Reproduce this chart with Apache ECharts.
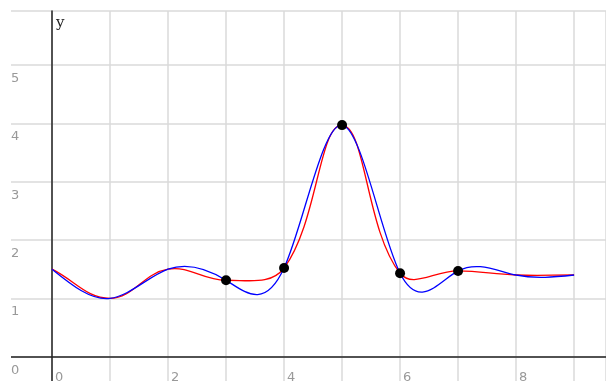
<!DOCTYPE html>
<html>
<head>
<meta charset="utf-8">
<script src="https://cdn.jsdelivr.net/npm/echarts@6/dist/echarts.min.js"></script>
<style>html,body{margin:0;padding:0;background:#fff;}#c{width:606px;height:381px;}</style>
</head>
<body>
<div id="c"></div>
<script>
// knots shared by both curves
var knotX = [0, 1, 2, 3, 4, 5, 6, 7, 8, 9];
var knotY = [1.5, 1.0, 1.5, 1.31, 1.52, 3.97, 1.43, 1.47, 1.4, 1.4];
// highlighted points
var dotX = [3, 4, 5, 6, 7];
var dotY = [1.31, 1.52, 3.97, 1.43, 1.47];
// tick labels
var xTickLabels = ['0', '2', '4', '6', '8'];
var yTickLabels = ['0', '1', '2', '3', '4', '5'];

function pairs(xs, ys) { return xs.map(function (x, i) { return [x, ys[i]]; }); }

// natural cubic spline second derivatives (for rendering the blue curve)
function naturalM(xs, ys) {
  var n = xs.length, M = new Array(n).fill(0);
  var a = [], b = [], c = [], d = [];
  for (var i = 1; i < n - 1; i++) {
    var h0 = xs[i] - xs[i - 1], h1 = xs[i + 1] - xs[i];
    a.push(h0); b.push(2 * (h0 + h1)); c.push(h1);
    d.push(6 * ((ys[i + 1] - ys[i]) / h1 - (ys[i] - ys[i - 1]) / h0));
  }
  var m = b.length;
  for (var k = 1; k < m; k++) {
    var w = a[k] / b[k - 1];
    b[k] -= w * c[k - 1]; d[k] -= w * d[k - 1];
  }
  var sol = new Array(m);
  for (var k2 = m - 1; k2 >= 0; k2--) {
    sol[k2] = (d[k2] - (k2 < m - 1 ? c[k2] * sol[k2 + 1] : 0)) / b[k2];
  }
  for (var j = 0; j < m; j++) M[j + 1] = sol[j];
  return M;
}
var M = naturalM(knotX, knotY);

// cardinal-style spline control points computed in pixel space (red curve)
var TENSION = 0.4;
function cardinalControls(pts, i) {
  var cur = pts[i];
  var prev = pts[i - 1] || cur;
  var next = pts[i + 1] || cur;
  var d01 = Math.hypot(cur[0] - prev[0], cur[1] - prev[1]);
  var d12 = Math.hypot(next[0] - cur[0], next[1] - cur[1]);
  var s01 = d01 / (d01 + d12), s12 = d12 / (d01 + d12);
  if (isNaN(s01)) s01 = 0;
  if (isNaN(s12)) s12 = 0;
  var fa = TENSION * s01, fb = TENSION * s12;
  return {
    prev: [cur[0] - fa * (next[0] - prev[0]), cur[1] - fa * (next[1] - prev[1])],
    next: [cur[0] + fb * (next[0] - prev[0]), cur[1] + fb * (next[1] - prev[1])]
  };
}

var chart = echarts.init(document.getElementById('c'), null, { renderer: 'canvas' });
chart.setOption({
  animation: false,
  backgroundColor: '#fff',
  grid: { left: -6, right: 0, top: 11, bottom: -34, containLabel: false, outerBoundsMode: 'none' },
  xAxis: {
    type: 'value', min: -1, max: 9.55, interval: 1,
    axisLine: { onZero: true, lineStyle: { color: '#222', width: 1.5 } },
    axisTick: { show: false },
    splitLine: { show: true, lineStyle: { color: '#dadada', width: 1.5 } },
    axisLabel: {
      margin: -44, align: 'left', padding: [0, 0, 0, 3], hideOverlap: false,
      color: '#999', fontFamily: 'DejaVu Sans', fontSize: 13,
      formatter: function (v) { var s = String(v); return xTickLabels.indexOf(s) >= 0 ? s : ''; }
    }
  },
  yAxis: {
    type: 'value', min: -1, max: 5.926, interval: 1,
    name: 'y', nameLocation: 'end', nameGap: -20,
    nameTextStyle: { fontFamily: 'DejaVu Serif', fontSize: 15, color: '#222', align: 'left', verticalAlign: 'bottom', padding: [0, 0, 0, 4] },
    axisLine: { onZero: true, lineStyle: { color: '#222', width: 1.5 } },
    axisTick: { show: false },
    splitLine: { show: true, lineStyle: { color: '#dadada', width: 1.5 } },
    axisLabel: {
      margin: -17, align: 'left', verticalAlign: 'top', padding: [7, 0, 0, 0], hideOverlap: false,
      showMinLabel: true, showMaxLabel: true,
      color: '#999', fontFamily: 'DejaVu Sans', fontSize: 13,
      formatter: function (v) { var s = String(v); return yTickLabels.indexOf(s) >= 0 ? s : ''; }
    }
  },
  graphic: [
    { type: 'rect', left: 0, top: 0, shape: { width: 11, height: 381 }, style: { fill: '#fff' }, z: 100 }
  ],
  series: [
    {
      type: 'custom', data: pairs(knotX, knotY), z: 3, silent: true,
      renderItem: function (params, api) {
        var i = params.dataIndex;
        if (i >= knotX.length - 1) return null;
        var pts = knotX.map(function (x, j) { return api.coord([x, knotY[j]]); });
        var c0 = cardinalControls(pts, i), c1 = cardinalControls(pts, i + 1);
        return {
          type: 'bezierCurve',
          shape: { x1: pts[i][0], y1: pts[i][1], cpx1: c0.next[0], cpy1: c0.next[1], cpx2: c1.prev[0], cpy2: c1.prev[1], x2: pts[i + 1][0], y2: pts[i + 1][1] },
          style: { stroke: '#ff0000', lineWidth: 1.3, fill: null }
        };
      }
    },
    {
      type: 'custom', data: pairs(knotX, knotY), z: 4, silent: true,
      renderItem: function (params, api) {
        var i = params.dataIndex;
        if (i >= knotX.length - 1) return null;
        var h = knotX[i + 1] - knotX[i];
        var y0 = knotY[i], y1 = knotY[i + 1];
        var d0 = (y1 - y0) / h - h * (2 * M[i] + M[i + 1]) / 6;
        var d1 = (y1 - y0) / h + h * (M[i] + 2 * M[i + 1]) / 6;
        var p0 = api.coord([knotX[i], y0]);
        var p1 = api.coord([knotX[i] + h / 3, y0 + d0 * h / 3]);
        var p2 = api.coord([knotX[i + 1] - h / 3, y1 - d1 * h / 3]);
        var p3 = api.coord([knotX[i + 1], y1]);
        return {
          type: 'bezierCurve',
          shape: { x1: p0[0], y1: p0[1], cpx1: p1[0], cpy1: p1[1], cpx2: p2[0], cpy2: p2[1], x2: p3[0], y2: p3[1] },
          style: { stroke: '#0000ff', lineWidth: 1.3, fill: null }
        };
      }
    },
    {
      type: 'scatter', data: pairs(dotX, dotY), symbol: 'circle', symbolSize: 10,
      itemStyle: { color: '#000', opacity: 1 }, z: 5, silent: true
    }
  ]
});
</script>
</body>
</html>
